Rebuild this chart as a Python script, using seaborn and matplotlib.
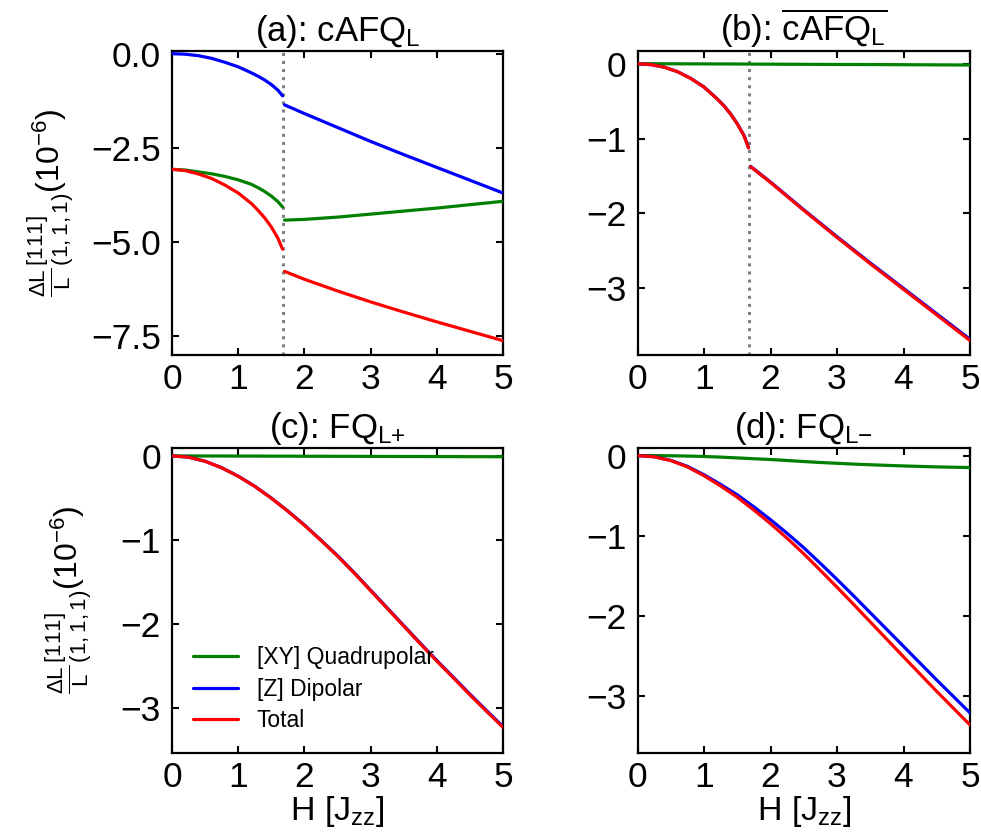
import numpy as np
import pandas as pd
import matplotlib
matplotlib.use("Agg")
import matplotlib.pyplot as plt
import seaborn as sns

sns.set_style("ticks")
plt.rcParams["font.family"] = ["Liberation Sans", "DejaVu Sans"]
plt.rcParams["mathtext.fontset"] = "custom"
plt.rcParams["mathtext.rm"] = "Liberation Sans"
plt.rcParams["mathtext.it"] = "Liberation Sans:italic"
plt.rcParams["mathtext.bf"] = "Liberation Sans:bold"
plt.rcParams["axes.unicode_minus"] = True
for k in ["text.color", "axes.labelcolor", "xtick.color", "ytick.color", "axes.edgecolor"]:
    plt.rcParams[k] = "black"

# ---------------- data ----------------
H_TRANSITION = 1.68

# panel (a): cAFQ_L
a_x_pre = [0.0, 0.2, 0.4, 0.6, 0.8, 1.0, 1.2, 1.3, 1.4, 1.5, 1.6, 1.67]
a_quad_pre = [-3.07, -3.09, -3.14, -3.19, -3.26, -3.35, -3.47, -3.56, -3.66, -3.78, -3.93, -4.07]
a_dip_pre = [0.0, -0.015, -0.055, -0.125, -0.23, -0.35, -0.51, -0.60, -0.70, -0.82, -0.97, -1.12]
a_tot_pre = [-3.07, -3.105, -3.195, -3.315, -3.49, -3.70, -3.98, -4.16, -4.36, -4.60, -4.90, -5.19]
a_x_post = [1.70, 2.0, 2.5, 3.0, 3.5, 4.0, 4.5, 5.0]
a_quad_post = [-4.42, -4.40, -4.34, -4.26, -4.18, -4.10, -4.01, -3.92]
a_dip_post = [-1.36, -1.59, -1.96, -2.33, -2.68, -3.02, -3.36, -3.70]
a_tot_post = [-5.78, -5.99, -6.30, -6.59, -6.86, -7.12, -7.37, -7.62]

# panel (b): overline cAFQ_L
b_x_pre = [0.0, 0.2, 0.4, 0.6, 0.8, 1.0, 1.2, 1.3, 1.4, 1.5, 1.6, 1.67]
b_quad_pre = [0.0, 0.0, -0.001, -0.001, -0.002, -0.002, -0.003, -0.003, -0.003, -0.004, -0.004, -0.005]
b_dip_pre = [0.0, -0.012, -0.045, -0.105, -0.195, -0.31, -0.47, -0.56, -0.67, -0.80, -0.955, -1.12]
b_tot_pre = [0.0, -0.012, -0.046, -0.106, -0.197, -0.312, -0.473, -0.563, -0.673, -0.804, -0.959, -1.125]
b_x_post = [1.70, 2.0, 2.5, 3.0, 3.5, 4.0, 4.5, 5.0]
b_quad_post = [-0.005, -0.006, -0.008, -0.010, -0.011, -0.013, -0.015, -0.017]
b_dip_post = [-1.37, -1.58, -1.95, -2.31, -2.66, -3.00, -3.34, -3.68]
b_tot_post = [-1.375, -1.586, -1.958, -2.32, -2.671, -3.013, -3.355, -3.697]

# panel (c): FQ_L+
c_x = [0.0, 0.25, 0.5, 0.75, 1.0, 1.25, 1.5, 1.75, 2.0, 2.25, 2.5, 2.75, 3.0,
       3.25, 3.5, 3.75, 4.0, 4.25, 4.5, 4.75, 5.0]
c_quad = [0.0, 0.0, -0.001, -0.001, -0.002, -0.002, -0.003, -0.003, -0.004, -0.004, -0.005,
          -0.005, -0.006, -0.006, -0.007, -0.007, -0.008, -0.008, -0.009, -0.009, -0.010]
c_dip = [0.0, -0.015, -0.063, -0.14, -0.24, -0.36, -0.50, -0.655, -0.82, -1.0, -1.185,
         -1.385, -1.595, -1.805, -2.015, -2.225, -2.43, -2.63, -2.83, -3.025, -3.215]
c_tot = [0.0, -0.015, -0.064, -0.141, -0.242, -0.362, -0.503, -0.658, -0.824, -1.004, -1.19,
         -1.39, -1.601, -1.811, -2.022, -2.232, -2.438, -2.638, -2.839, -3.034, -3.225]

# panel (d): FQ_L-
d_x = [0.0, 0.25, 0.5, 0.75, 1.0, 1.25, 1.5, 1.75, 2.0, 2.25, 2.5, 2.75, 3.0,
       3.25, 3.5, 3.75, 4.0, 4.25, 4.5, 4.75, 5.0]
d_quad = [0.0, -0.001, -0.003, -0.007, -0.012, -0.02, -0.03, -0.04, -0.05, -0.062, -0.075,
          -0.087, -0.097, -0.107, -0.115, -0.123, -0.13, -0.136, -0.142, -0.146, -0.15]
d_dip = [0.0, -0.015, -0.06, -0.135, -0.24, -0.36, -0.49, -0.64, -0.80, -0.97, -1.15,
         -1.345, -1.545, -1.75, -1.96, -2.17, -2.38, -2.59, -2.80, -3.005, -3.21]
d_tot = [0.0, -0.016, -0.063, -0.142, -0.252, -0.38, -0.52, -0.68, -0.85, -1.032, -1.225,
         -1.432, -1.642, -1.857, -2.075, -2.293, -2.51, -2.726, -2.942, -3.151, -3.36]

series_names = ["[XY] Quadrupolar", "[Z] Dipolar", "Total"]
series_colors = ["green", "blue", "red"]

titles = [r"(a): cAFQ$_{\mathrm{L}}$",
          r"(b): $\overline{\text{cAFQ}_{\text{L}}}$",
          r"(c): FQ$_{\text{L+}}$",
          "(d): FQ$_{\\text{L\u2212}}$"]
ylims = [(-8.0, 0.07), (-3.89, 0.17), (-3.53, 0.10), (-3.71, 0.10)]
yticks_list = [[0.0, -2.5, -5.0, -7.5], [0, -1, -2, -3], [0, -1, -2, -3], [0, -1, -2, -3]]
xticks = [0, 1, 2, 3, 4, 5]

ylabel = r"$\frac{\Delta\mathrm{L}}{\mathrm{L}}{}^{[111]}_{(1,1,1)}(10^{-6})$"
xlabel = r"H [J$_{\mathrm{zz}}$]"


def segs(x, q, d, t, seg):
    rows = []
    for name, vals in zip(series_names, [q, d, t]):
        for xi, vi in zip(x, vals):
            rows.append({"H": xi, "val": vi, "series": name, "seg": seg})
    return rows


panels = [
    pd.DataFrame(segs(a_x_pre, a_quad_pre, a_dip_pre, a_tot_pre, 0)
                 + segs(a_x_post, a_quad_post, a_dip_post, a_tot_post, 1)),
    pd.DataFrame(segs(b_x_pre, b_quad_pre, b_dip_pre, b_tot_pre, 0)
                 + segs(b_x_post, b_quad_post, b_dip_post, b_tot_post, 1)),
    pd.DataFrame(segs(c_x, c_quad, c_dip, c_tot, 0)),
    pd.DataFrame(segs(d_x, d_quad, d_dip, d_tot, 0)),
]
has_transition = [True, True, False, False]

# ---------------- figure ----------------
fig = plt.figure(figsize=(9.81, 8.34), dpi=100)
W, Hh = 981.0, 834.0
boxes = [(172, 503, 51, 355), (637.5, 970, 51, 355),
         (172, 503, 447.5, 753), (637.5, 970, 447.5, 753)]
axes = []
for (l, r, t, b) in boxes:
    axes.append(fig.add_axes([l / W, 1 - b / Hh, (r - l) / W, (b - t) / Hh]))


def fmt1(v, pos):
    return ("%.1f" % v).replace("-", "\u2212")


ylabel_x = {0: -0.29, 2: -0.235}

for i, ax in enumerate(axes):
    df = panels[i]
    if has_transition[i]:
        ax.axvline(H_TRANSITION, color="gray", linestyle=":", lw=2.2, zorder=1)
    for name, col in zip(series_names, series_colors):
        sub = df[df["series"] == name]
        for seg, sdf in sub.groupby("seg"):
            sns.lineplot(data=sdf, x="H", y="val", color=col, lw=2.3, ax=ax,
                         legend=False, estimator=None, zorder=3)
    ax.set_xlim(0, 5)
    ax.set_ylim(*ylims[i])
    ax.set_xticks(xticks)
    ax.set_yticks(yticks_list[i])
    if i == 0:
        ax.yaxis.set_major_formatter(matplotlib.ticker.FuncFormatter(fmt1))
    ax.tick_params(direction="in", top=True, right=True, length=5, width=1.5,
                   labelsize=25.5, colors="black")
    ax.tick_params(axis="x", pad=6)
    ax.tick_params(axis="y", pad=8)
    for sp in ax.spines.values():
        sp.set_linewidth(1.6)
        sp.set_visible(True)
        sp.set_color("black")
    ax.set_title(titles[i], fontsize=25, pad=7)
    ax.set_xlabel(xlabel if i >= 2 else "", fontsize=24.5, labelpad=0)
    if i in (0, 2):
        ax.set_ylabel(ylabel, fontsize=23)
        ax.yaxis.set_label_coords(ylabel_x[i], 0.5)
    else:
        ax.set_ylabel("")

handles = [matplotlib.lines.Line2D([], [], color=c, lw=2.3) for c in series_colors]
axes[2].legend(handles, series_names, loc="lower left", frameon=False,
               fontsize=16.5, labelspacing=0.38)

fig.savefig("out.png", dpi=100)
